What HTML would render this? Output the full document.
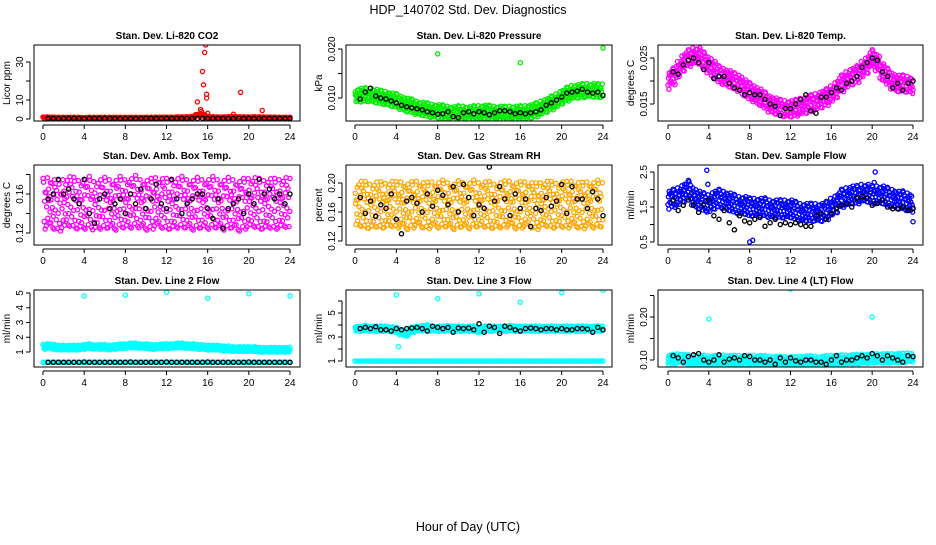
<!DOCTYPE html>
<html><head><meta charset="utf-8">
<style>
body{margin:0;background:#fff;}
svg text{font-family:"Liberation Sans",sans-serif;}
</style></head>
<body>
<svg id="chart" width="936" height="540" viewBox="0 0 936 540" xmlns="http://www.w3.org/2000/svg">
<rect width="936" height="540" fill="#fff"/>
<text x="468" y="14" text-anchor="middle" font-size="12.5">HDP_140702  Std. Dev. Diagnostics</text>
<text x="468" y="531" text-anchor="middle" font-size="12.5">Hour of Day (UTC)</text>
</svg>
<script>
// ---- data ----
const xTicks = [0,4,8,12,16,20,24];
const titles = ["Stan. Dev. Li-820 CO2","Stan. Dev. Li-820 Pressure","Stan. Dev. Li-820 Temp.","Stan. Dev. Amb. Box Temp.","Stan. Dev. Gas Stream RH","Stan. Dev. Sample Flow","Stan. Dev. Line 2 Flow","Stan. Dev. Line 3 Flow","Stan. Dev. Line 4 (LT) Flow"];
const yLabels = ["Licor ppm","kPa","degrees C","degrees C","percent","ml/min","ml/min","ml/min","ml/min"];
const colors = ["#ff0000","#00ee00","#ff00ff","#ff00ff","#ffa500","#0000ff","#00ffff","#00ffff","#00ffff"];
const yTickVals = [[0,10,20,30],[0.010,0.015,0.020],[0.015,0.020,0.025],[0.12,0.14,0.16,0.18],[0.12,0.14,0.16,0.18,0.20],[0.5,1.0,1.5,2.0,2.5],[1,2,3,4,5],[1,2,3,4,5,6],[0.10,0.15,0.20,0.25]];
const yTickText = [["0","10","","30"],["0.010","","0.020"],["0.015","","0.025"],["0.12","","0.16",""],["0.12","","0.16","","0.20"],["0.5","","1.5","","2.5"],["1","2","3","4","5"],["1","","3","","5",""],["0.10","","0.20",""]];
// colored cloud centers, every 0.5 h from 0 to 24
const center1 = [0.6,0.7,0.6,0.5,0.5,0.5,0.5,0.5,0.4,0.5,0.5,0.5,0.5,0.5,0.5,0.5,0.5,0.5,0.5,0.5,0.5,0.5,0.6,0.6,0.6,0.6,0.7,0.7,0.8,1.0,2.0,2.0,1.0,0.8,0.7,0.7,0.8,0.9,0.8,0.7,0.7,0.8,0.7,0.7,0.6,0.6,0.5,0.5,0.5];
const center2 = [0.0105,0.0106,0.0107,0.0106,0.0104,0.0102,0.0100,0.0097,0.0095,0.0090,0.0086,0.0084,0.0080,0.0078,0.0076,0.0074,0.0073,0.0072,0.0070,0.0069,0.0070,0.0070,0.0069,0.0070,0.0071,0.0072,0.0071,0.0070,0.0070,0.0069,0.0070,0.0070,0.0070,0.0071,0.0073,0.0076,0.0080,0.0085,0.0090,0.0095,0.0102,0.0108,0.0112,0.0114,0.0115,0.0116,0.0116,0.0115,0.0115];
const center3 = [0.0200,0.0210,0.0225,0.0240,0.0250,0.0255,0.0255,0.0245,0.0235,0.0225,0.0215,0.0210,0.0205,0.0200,0.0195,0.0185,0.0178,0.0172,0.0165,0.0158,0.0150,0.0146,0.0142,0.0140,0.0140,0.0142,0.0145,0.0148,0.0152,0.0155,0.0160,0.0165,0.0172,0.0182,0.0195,0.0203,0.0210,0.0215,0.0225,0.0235,0.0250,0.0240,0.0220,0.0210,0.0200,0.0195,0.0195,0.0193,0.0190];
const center4 = [0.150,0.152,0.150,0.148,0.150,0.153,0.151,0.149,0.150,0.152,0.148,0.150,0.151,0.150,0.149,0.152,0.150,0.151,0.153,0.150,0.149,0.150,0.152,0.151,0.150,0.149,0.151,0.152,0.150,0.149,0.151,0.150,0.150,0.152,0.150,0.149,0.151,0.150,0.148,0.150,0.151,0.152,0.150,0.149,0.151,0.150,0.150,0.152,0.150];
const center5 = [0.170,0.172,0.170,0.168,0.171,0.170,0.169,0.172,0.170,0.171,0.168,0.170,0.172,0.170,0.169,0.171,0.170,0.172,0.170,0.168,0.171,0.170,0.169,0.172,0.170,0.171,0.170,0.168,0.170,0.171,0.172,0.169,0.170,0.171,0.170,0.168,0.170,0.172,0.170,0.169,0.171,0.170,0.172,0.170,0.169,0.171,0.170,0.172,0.170];
const center6 = [1.70,1.75,1.80,1.90,2.00,1.80,1.70,1.65,1.60,1.70,1.75,1.70,1.65,1.60,1.55,1.55,1.50,1.50,1.50,1.50,1.45,1.45,1.45,1.45,1.45,1.40,1.35,1.35,1.35,1.35,1.35,1.40,1.50,1.60,1.75,1.80,1.85,1.85,1.90,1.90,1.85,1.85,1.85,1.80,1.75,1.70,1.70,1.65,1.60];
const center7 = [1.35,1.40,1.35,1.30,1.30,1.30,1.30,1.30,1.35,1.40,1.35,1.35,1.35,1.30,1.35,1.40,1.40,1.45,1.45,1.40,1.40,1.35,1.35,1.40,1.40,1.40,1.45,1.45,1.40,1.40,1.35,1.35,1.30,1.30,1.30,1.25,1.25,1.20,1.20,1.20,1.20,1.20,1.15,1.15,1.15,1.15,1.15,1.15,1.15];
const center8 = [3.70,3.70,3.75,3.70,3.70,3.70,3.70,3.65,3.60,3.40,3.30,3.60,3.70,3.75,3.80,3.70,3.70,3.70,3.75,3.70,3.70,3.70,3.70,3.70,3.60,3.70,3.70,3.70,3.70,3.70,3.75,3.70,3.70,3.70,3.70,3.70,3.70,3.70,3.70,3.70,3.70,3.70,3.70,3.70,3.70,3.70,3.70,3.70,3.70];
const center9 = [0.100,0.102,0.104,0.103,0.101,0.100,0.100,0.100,0.099,0.100,0.100,0.101,0.100,0.100,0.100,0.099,0.100,0.100,0.100,0.099,0.098,0.098,0.098,0.097,0.097,0.097,0.098,0.099,0.099,0.098,0.098,0.099,0.100,0.101,0.101,0.101,0.102,0.102,0.103,0.103,0.104,0.104,0.104,0.104,0.104,0.105,0.105,0.106,0.106];
const spreads = [0.4,0.0014,0.0018,0.026,0.032,0.26,0.16,0.22,0.011];
// secondary colored bands (lines 2 and 3)
const band7 = 0.30;
const band8 = 1.00;
// black series, every 0.5 h from 0.5 to 24
const black1 = [0.3,0.3,0.2,0.3,0.3,0.3,0.3,0.2,0.3,0.3,0.3,0.3,0.3,0.3,0.2,0.3,0.3,0.3,0.3,0.3,0.3,0.3,0.3,0.3,0.3,0.3,0.3,0.3,0.3,0.3,0.4,0.3,0.3,0.3,0.3,0.3,0.3,0.3,0.3,0.3,0.3,0.3,0.3,0.3,0.3,0.3,0.3,0.3];
const black2 = [0.0098,0.0112,0.0120,0.0104,0.0100,0.0098,0.0094,0.0090,0.0085,0.0082,0.0080,0.0078,0.0076,0.0072,0.0070,0.0067,0.0068,0.0072,0.0062,0.0060,0.0070,0.0072,0.0068,0.0072,0.0070,0.0066,0.0070,0.0074,0.0074,0.0072,0.0068,0.0070,0.0068,0.0070,0.0072,0.0076,0.0085,0.0090,0.0096,0.0102,0.0110,0.0112,0.0114,0.0118,0.0112,0.0110,0.0112,0.0105];
const black3 = [0.0220,0.0215,0.0235,0.0245,0.0250,0.0240,0.0225,0.0240,0.0205,0.0210,0.0210,0.0195,0.0185,0.0180,0.0170,0.0175,0.0170,0.0170,0.0160,0.0150,0.0145,0.0125,0.0140,0.0140,0.0150,0.0160,0.0170,0.0135,0.0130,0.0165,0.0165,0.0175,0.0185,0.0180,0.0195,0.0200,0.0210,0.0230,0.0240,0.0250,0.0245,0.0220,0.0210,0.0185,0.0195,0.0180,0.0195,0.0200];
const black4 = [0.155,0.160,0.175,0.160,0.165,0.155,0.150,0.175,0.140,0.130,0.155,0.160,0.145,0.150,0.155,0.140,0.160,0.150,0.165,0.145,0.155,0.170,0.150,0.145,0.175,0.155,0.140,0.150,0.155,0.160,0.160,0.145,0.135,0.155,0.125,0.145,0.150,0.155,0.140,0.160,0.150,0.175,0.160,0.165,0.155,0.160,0.150,0.160];
const black5 = [0.180,0.158,0.175,0.154,0.170,0.165,0.185,0.150,0.130,0.175,0.180,0.172,0.160,0.185,0.168,0.190,0.183,0.170,0.195,0.160,0.198,0.180,0.155,0.170,0.165,0.222,0.175,0.195,0.178,0.155,0.185,0.165,0.178,0.140,0.165,0.162,0.180,0.168,0.175,0.198,0.158,0.195,0.178,0.178,0.165,0.188,0.178,0.155];
const black6 = [1.70,1.40,1.55,1.70,1.55,1.35,1.55,1.70,1.25,1.15,1.40,1.05,0.85,1.25,1.10,1.05,1.15,1.20,0.95,1.05,1.15,1.00,1.05,1.00,1.05,1.00,0.95,0.95,1.25,1.30,1.15,1.30,1.45,1.55,1.60,1.50,1.75,1.80,1.75,1.55,1.60,1.70,1.50,1.45,1.45,1.50,1.40,1.45];
const black7 = [0.30,0.30,0.30,0.30,0.30,0.30,0.30,0.32,0.30,0.30,0.30,0.30,0.30,0.30,0.30,0.30,0.32,0.30,0.30,0.30,0.30,0.30,0.30,0.32,0.30,0.30,0.30,0.30,0.30,0.30,0.30,0.32,0.30,0.30,0.30,0.30,0.30,0.30,0.30,0.32,0.30,0.30,0.30,0.30,0.30,0.30,0.30,0.30];
const black8 = [3.70,3.80,3.70,3.85,3.60,3.60,3.50,3.70,3.60,3.70,3.75,3.80,3.70,3.50,3.90,3.80,3.70,3.80,3.40,3.75,3.70,3.75,3.60,4.10,3.40,3.90,3.80,3.30,3.90,3.80,3.60,3.50,3.70,3.75,3.70,3.60,3.70,3.70,3.60,3.70,3.60,3.60,3.70,3.70,3.65,3.40,3.80,3.60];
const black9 = [0.110,0.105,0.095,0.108,0.112,0.115,0.100,0.095,0.100,0.112,0.095,0.102,0.105,0.100,0.110,0.108,0.100,0.100,0.095,0.100,0.090,0.105,0.095,0.105,0.098,0.095,0.100,0.100,0.095,0.095,0.090,0.100,0.110,0.095,0.100,0.100,0.105,0.110,0.105,0.115,0.110,0.100,0.110,0.105,0.100,0.095,0.110,0.108];
// outliers
const outX = [[15.0,15.3,15.5,15.7,15.8,15.6,15.9,15.9,15.4,16.0,19.2,18.5,21.3],[8,16,24],[],[],[],[3.8,3.9,8.0,8.3,20.3,20.2,24.0],[4,8,12,16,20,24],[4,8,12,16,20,24,4.2],[4,12,20]];
const outY = [[9,5,25,35,39,18,13,11,4,3,14,2.5,4.5],[0.0190,0.0172,0.0202],[],[],[],[2.55,2.15,0.5,0.55,2.5,2.2,1.08],[4.8,4.85,5.05,4.65,4.95,4.8],[6.5,6.2,6.6,5.9,6.7,6.9,2.2],[0.195,0.265,0.200]];
const centers = [center1,center2,center3,center4,center5,center6,center7,center8,center9];
const blacks = [black1,black2,black3,black4,black5,black6,black7,black8,black9];
const bands = [null,null,null,null,null,null,band7,band8,null];

// ---- layout (pixel geometry) ----
const cols = [{l:34,r:300,x0:43,x24:290},{l:346,r:612,x0:355,x24:603},{l:658,r:923,x0:668,x24:913}];
const rows = [{t:45,b:121},{t:165,b:245},{t:290,b:367}];
const yRef = [[0,119,30,62],[0.010,98,0.020,49],[0.015,104,0.025,58],[0.12,233,0.16,194],[0.12,241,0.20,183],[0.5,242,2.5,172],[1,352,5,293],[1,361,5,313],[0.10,360,0.20,317]];
// marker scatter pattern (x offset in h, y offset in spread units)
const patterns = [
 [[-0.19,0.6],[-0.02,-0.3],[0.15,0.1],[-0.1,-0.9],[0.06,0.85],[-0.22,-0.55],[0.21,0.45],[0.11,-0.7],[-0.13,0.25],[0.0,1.0],[0.2,-1.0]],
 [[-0.15,-0.2],[0.03,0.5],[0.18,-0.4],[-0.07,0.95],[0.1,-0.85],[-0.2,0.35],[0.22,0.75],[-0.03,-0.65],[0.13,0.2],[-0.18,-0.95],[0.05,0.05]],
 [[-0.21,0.15],[0.0,-0.5],[0.16,0.65],[-0.09,-0.15],[0.09,-1.0],[-0.14,0.8],[0.19,-0.25],[0.04,0.35],[-0.24,-0.75],[0.12,0.95],[-0.04,-0.95]]
];

const svg = document.getElementById('chart');
const NS = 'http://www.w3.org/2000/svg';
function mk(tag, attrs, parent){const e=document.createElementNS(NS,tag);for(const k in attrs)e.setAttribute(k,attrs[k]);parent.appendChild(e);return e;}

for(let p=0;p<9;p++){
  const c=cols[p%3], r=rows[Math.floor(p/3)], yr=yRef[p];
  const X=v=>c.x0+(c.x24-c.x0)*v/24;
  const Y=v=>yr[1]+(v-yr[0])*(yr[3]-yr[1])/(yr[2]-yr[0]);
  const g=mk('g',{},svg);
  
  
  const clipId='clip'+p;
  const cp=mk('clipPath',{id:clipId},g);
  mk('rect',{x:c.l,y:r.t,width:c.r-c.l,height:r.b-r.t},cp);
  const tt=mk('text',{x:(c.l+c.r)/2,y:r.t-6,'text-anchor':'middle','font-size':'10','font-weight':'bold'},g);
  tt.textContent=titles[p];
  
  
  const marks=mk('g',{'clip-path':'url(#'+clipId+')',fill:'none','stroke-width':'1.3'},g);
  
  
  const s=spreads[p], col=colors[p];
  const dot=(x,y,stroke)=>mk('circle',{cx:x.toFixed(1),cy:y.toFixed(1),r:2.1,stroke:stroke},marks);
  centers[p].forEach((v,i)=>{
    const t=i*0.5;
    patterns[(i+p)%3].forEach(q=>{ if(t+q[0]>=0 && t+q[0]<=24){ const e=dot(X(t+q[0]),Y(v+q[1]*s),col);
      
      }});
    if(bands[p]!==null){[-0.17,0,0.17].forEach(o=>{if(t+o>=0&&t+o<=24){const e=dot(X(t+o),Y(bands[p]),col);
      
      }});}
  });
  outX[p].forEach((x,i)=>{const e=dot(X(x),Y(outY[p][i]),col);
    
    });
  blacks[p].forEach((v,i)=>{const e=dot(X(0.5+i*0.5),Y(v),'#000');
    
    });
  const box=mk('rect',{x:c.l,y:r.t,width:c.r-c.l,height:r.b-r.t,fill:'none',stroke:'#000','stroke-width':'1'},g);
  
  
  const xa=mk('g',{},g);
  
  
  mk('line',{x1:X(0),x2:X(24),y1:r.b+4,y2:r.b+4,stroke:'#000'},xa);
  xTicks.forEach(v=>{mk('line',{x1:X(v),x2:X(v),y1:r.b+4,y2:r.b+8,stroke:'#000'},xa);
    const t=mk('text',{x:X(v),y:r.b+19,'text-anchor':'middle','font-size':'10'},xa);t.textContent=v;
    
    });
  const ya=mk('g',{},g);
  
  
  const tv=yTickVals[p];
  const inR=tv.filter(v=>Y(v)>=r.t-1&&Y(v)<=r.b+1);
  mk('line',{x1:c.l-4,x2:c.l-4,y1:Y(inR[0]),y2:Y(inR[inR.length-1]),stroke:'#000'},ya);
  tv.forEach((v,i)=>{const y=Y(v); if(y<r.t-1||y>r.b+1) return;
    mk('line',{x1:c.l-8,x2:c.l-4,y1:y,y2:y,stroke:'#000'},ya);
    if(yTickText[p][i]){const t=mk('text',{x:c.l-11,y:y,'text-anchor':'middle','font-size':'10',transform:'rotate(-90 '+(c.l-11)+' '+y+')'},ya);
      t.textContent=yTickText[p][i];
      
      }});
  const yl=mk('text',{x:c.l-24,y:(r.t+r.b)/2,'text-anchor':'middle','font-size':'10',transform:'rotate(-90 '+(c.l-24)+' '+((r.t+r.b)/2)+')'},g);
  yl.textContent=yLabels[p];
  
  
}
</script>
</body></html>
